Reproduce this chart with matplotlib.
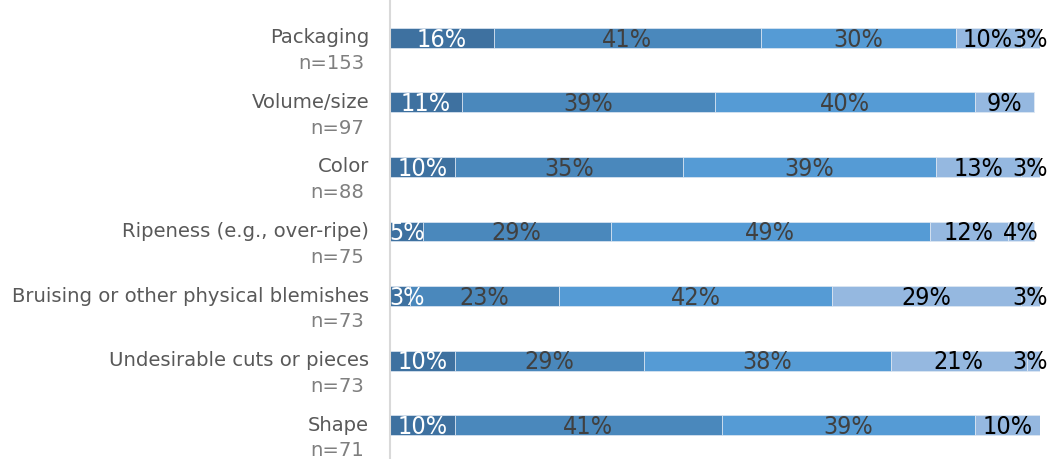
import matplotlib.pyplot as plt
from matplotlib import font_manager

# issue categories, sample sizes and share of each rating (percent)
categories = [
    "Packaging",
    "Volume/size",
    "Color",
    "Ripeness (e.g., over-ripe)",
    "Bruising or other physical blemishes",
    "Undesirable cuts or pieces",
    "Shape",
]
sample_sizes = [153, 97, 88, 75, 73, 73, 71]

seg1 = [16, 11, 10, 5, 3, 10, 10]
seg2 = [41, 39, 35, 29, 23, 29, 41]
seg3 = [30, 40, 39, 49, 42, 38, 39]
seg4 = [10, 9, 13, 12, 29, 21, 10]
seg5 = [3, 0, 3, 4, 3, 3, 0]

SEG_COLORS = ["#3e71a0", "#4a88bc", "#559bd5", "#95b8e0", "#9cbde3"]
TEXT_COLORS = ["white", "#404040", "#404040", "black", "black"]

available = {f.name for f in font_manager.fontManager.ttflist}
if "Liberation Sans Narrow" in available:
    PCT_FONT = dict(family="Liberation Sans Narrow")
else:
    PCT_FONT = dict(family="DejaVu Sans", stretch="condensed")

fig = plt.figure(figsize=(10.49, 4.59), dpi=100)
ax = fig.add_axes([390 / 1049, 0, 650 / 1049, 1])

segments = [seg1, seg2, seg3, seg4, seg5]
y = list(range(len(categories)))
left = [0] * len(categories)
for vals, col, tcol in zip(segments, SEG_COLORS, TEXT_COLORS):
    ax.barh(y, vals, left=left, height=0.31, color=col,
            edgecolor="#dfe8f3", linewidth=0.5)
    for i, v in enumerate(vals):
        if v > 0:
            # keep the narrow end labels inside the plotting area
            xc = min(max(left[i] + v / 2, 2.6), 98.4)
            ax.text(xc, i + 0.03, f"{v}%", ha="center", va="center",
                    fontsize=18, color=tcol, **PCT_FONT)
    left = [l + v for l, v in zip(left, vals)]

# two-line category labels to the left of the bars
for i, (cat, n) in enumerate(zip(categories, sample_sizes)):
    ax.text(-3.2, i, cat, ha="right", va="center", fontsize=14.1,
            color="#595959", clip_on=False)
    ax.text(-4.0, i + 0.40, f"n={n}", ha="right", va="center", fontsize=14.1,
            color="#7f7f7f", clip_on=False)

ax.set_xlim(0, 100)
ax.set_ylim(6.527, -0.589)
ax.set_xticks([])
ax.set_yticks([])
for side in ["top", "right", "bottom"]:
    ax.spines[side].set_visible(False)
ax.spines["left"].set_color("#d9d9d9")
ax.spines["left"].set_linewidth(1.5)

fig.savefig("out.png", dpi=100)
